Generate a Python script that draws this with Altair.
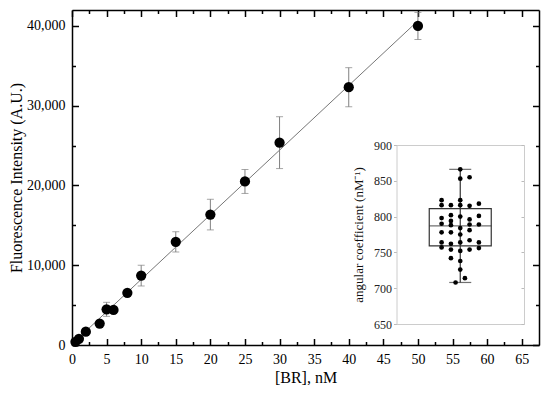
import altair as alt
import pandas as pd

# ---------------- data ----------------
conc = [0.5, 1, 2, 4, 5, 6, 8, 10, 15, 20, 25, 30, 40, 50]
intensity = [400, 780, 1670, 2680, 4470, 4400, 6540, 8700, 12930, 16350, 20500, 25370, 32320, 40000]
intensity_err = [150, 200, 250, 300, 880, 300, 350, 1300, 1270, 1920, 1500, 3250, 2450, 1700]

x_label_values = [0, 5, 10, 15, 20, 25, 30, 35, 40, 45, 50, 55, 60, 65]
x_minor_values = [2.5, 7.5, 12.5, 17.5, 22.5, 27.5, 32.5, 37.5, 42.5, 47.5, 52.5, 57.5, 62.5]
y_label_values = [0, 10000, 20000, 30000, 40000]
y_minor_values = [5000, 15000, 25000, 35000]

# inset: angular coefficients, with their swarm column (-2 .. 2)
coef_col = [-2, -2, -2, -2, -2, -2, -2,
            -1, -1, -1, -1, -1, -1, -1, -1,
            -0.5,
            0, 0, 0, 0, 0, 0, 0, 0, 0, 0, 0,
            0.5,
            1, 1, 1, 1, 1, 1, 1,
            2, 2, 2, 2, 2]
coef_value = [823, 816, 798, 790, 778, 764, 757,
              816, 802, 794, 788, 778, 762, 754, 742,
              708,
              866, 853, 823, 816, 800, 784, 775, 764, 752, 738, 726,
              714,
              855, 815, 796, 789, 781, 767, 754,
              818, 801, 789, 764, 756]
box_q1 = [759]
box_median = [787]
box_q3 = [811]
whisker_low = [708]
whisker_high = [866]
inset_y_values = [650, 700, 750, 800, 850, 900]

# ---------------- tables ----------------
main_df = pd.DataFrame({"conc": conc, "intensity": intensity, "err": intensity_err})
main_df["lo"] = main_df["intensity"] - main_df["err"]
main_df["hi"] = main_df["intensity"] + main_df["err"]
coef_df = pd.DataFrame({"col": coef_col, "coef": coef_value})
box_df = pd.DataFrame({"center": [0], "q1": box_q1, "median": box_median, "q3": box_q3,
                       "low": whisker_low, "high": whisker_high})

FONT = "Liberation Serif"
W, H = 467, 335
XD = [0, 67.5]
YD = [0, 42000]
# inset frame inside the plot area (pixels)
IL, IR, IT, IB = 324.5, 452, 135, 314


def xs():
    return alt.Scale(domain=XD, nice=False, zero=False)


def ys():
    return alt.Scale(domain=YD, nice=False, zero=False)


def ixs():
    return alt.Scale(domain=[-6.3, 6.3], range=[IL, IR], nice=False, zero=False)


def iys():
    return alt.Scale(domain=[650, 900], range=[IB, IT], nice=False, zero=False)


# ---------------- main plot ----------------
x_axis_main = alt.Axis(orient="bottom", values=x_label_values, ticks=False, labelPadding=7,
                       title="[BR], nM", titlePadding=3, domainColor="black", domainWidth=1.5,
                       grid=False, labelFontSize=14, titleFontSize=16, titleFontWeight="normal",
                       labelColor="black", titleColor="black", labelFlush=False, format="d")
y_axis_main = alt.Axis(orient="left", values=y_label_values, ticks=False, labelPadding=7,
                       title="Fluorescence Intensity (A.U.)", titlePadding=2, domainColor="black",
                       domainWidth=1.5, grid=False, labelFontSize=14, titleFontSize=16,
                       titleFontWeight="normal", labelColor="black", titleColor="black",
                       labelFlush=False, format=",d")

base = alt.Chart(main_df)
X = alt.X("conc:Q", scale=xs(), axis=x_axis_main)

fit = base.transform_regression("conc", "intensity", extent=[0, 50]).mark_line(
    color="#666666", strokeWidth=0.9).encode(
    x=X, y=alt.Y("intensity:Q", scale=ys(), axis=y_axis_main))
bars = base.mark_rule(color="#808080", strokeWidth=1).encode(
    x=X, y=alt.Y("lo:Q", scale=ys(), axis=y_axis_main), y2="hi:Q")
cap_lo = base.mark_tick(orient="horizontal", size=7, thickness=1, color="#808080").encode(
    x=X, y=alt.Y("lo:Q", scale=ys(), axis=y_axis_main))
cap_hi = base.mark_tick(orient="horizontal", size=7, thickness=1, color="#808080").encode(
    x=X, y=alt.Y("hi:Q", scale=ys(), axis=y_axis_main))
dots = base.mark_circle(size=105, opacity=1, color="black").encode(
    x=X, y=alt.Y("intensity:Q", scale=ys(), axis=y_axis_main))
main = alt.layer(fit, bars, cap_lo, cap_hi, dots)


def tick_layer(xvals, yvals, size, x_orient, y_orient, frame):
    """Invisible layer that only carries inward-pointing tick axes."""
    common = dict(labels=False, grid=False, tickSize=size, tickColor="black",
                  tickWidth=1.5, title="", domain=frame)
    if frame:
        common.update(domainColor="black", domainWidth=1.5)
    return base.mark_point(opacity=0).encode(
        x=alt.X("conc:Q", scale=xs(),
                axis=alt.Axis(orient=x_orient, offset=-H, values=xvals, **common)),
        y=alt.Y("intensity:Q", scale=ys(),
                axis=alt.Axis(orient=y_orient, offset=-W, values=yvals, **common)))


# a "top" axis moved down to the bottom edge has its ticks pointing up (inward), etc.
ticks_bl_major = tick_layer(x_label_values, y_label_values, 6.5, "top", "right", False)
ticks_bl_minor = tick_layer(x_minor_values, y_minor_values, 3.5, "top", "right", False)
ticks_tr_major = tick_layer(x_label_values, y_label_values, 6.5, "bottom", "left", True)
ticks_tr_minor = tick_layer(x_minor_values, y_minor_values, 3.5, "bottom", "left", False)

# ---------------- inset ----------------
ix_axis = alt.Axis(orient="bottom", offset=-(H - IB), labels=False, ticks=False, grid=False,
                   domainColor="#cccccc", domainWidth=1, title="")
iy_axis = alt.Axis(orient="left", offset=-IL, values=inset_y_values, labelPadding=2, tickSize=3,
                   tickColor="#bbbbbb", tickWidth=1, domainColor="#cccccc", domainWidth=1,
                   grid=False, labelFontSize=12, labelColor="#222222", labelFlush=False,
                   title="angular coefficient (nM⁻¹)", titleFontSize=13,
                   titleFontWeight="normal", titleColor="#111111", titlePadding=8)

bbase = alt.Chart(box_df)
BX = alt.X("center:Q", scale=ixs(), axis=ix_axis)
whisk = bbase.mark_rule(color="#333333", strokeWidth=1.2).encode(
    x=BX, y=alt.Y("low:Q", scale=iys(), axis=iy_axis), y2="high:Q")
box = bbase.mark_bar(orient="vertical", size=62, fillOpacity=0, stroke="#333333",
                     strokeWidth=1.2).encode(
    x=BX, y=alt.Y("q1:Q", scale=iys(), axis=iy_axis), y2="q3:Q")
med = bbase.mark_tick(orient="horizontal", size=62, thickness=1.2, color="#333333").encode(
    x=BX, y=alt.Y("median:Q", scale=iys(), axis=iy_axis))
wcap_lo = bbase.mark_tick(orient="horizontal", size=22, thickness=1.2, color="#333333").encode(
    x=BX, y=alt.Y("low:Q", scale=iys(), axis=iy_axis))
wcap_hi = bbase.mark_tick(orient="horizontal", size=22, thickness=1.2, color="#333333").encode(
    x=BX, y=alt.Y("high:Q", scale=iys(), axis=iy_axis))
swarm = alt.Chart(coef_df).mark_circle(size=22, opacity=1, color="black").encode(
    x=alt.X("col:Q", scale=ixs(), axis=ix_axis),
    y=alt.Y("coef:Q", scale=iys(), axis=iy_axis))
inset = alt.layer(whisk, box, med, wcap_lo, wcap_hi, swarm)

inset_frame = alt.Chart(coef_df).mark_point(opacity=0).encode(
    x=alt.X("col:Q", scale=ixs(), axis=alt.Axis(
        orient="top", offset=-IT, labels=False, ticks=False, grid=False,
        domainColor="#cccccc", domainWidth=1, title="")),
    y=alt.Y("coef:Q", scale=iys(), axis=alt.Axis(
        orient="left", offset=-IR, values=inset_y_values, labels=False, tickSize=3,
        tickColor="#bbbbbb", tickWidth=1, domainColor="#cccccc", domainWidth=1,
        grid=False, title="")))

chart = alt.layer(main, ticks_bl_major, ticks_bl_minor, ticks_tr_major, ticks_tr_minor,
                  inset, inset_frame).resolve_scale(
    x="independent", y="independent"
).properties(
    width=W, height=H,
    autosize=alt.AutoSizeParams(type="none"),
    padding={"left": 64, "top": 2, "right": 3, "bottom": 40},
).configure_view(strokeWidth=0).configure_axis(
    labelFont=FONT, titleFont=FONT
)

chart.save("out.html", embed_options={"renderer": "svg", "actions": False})
